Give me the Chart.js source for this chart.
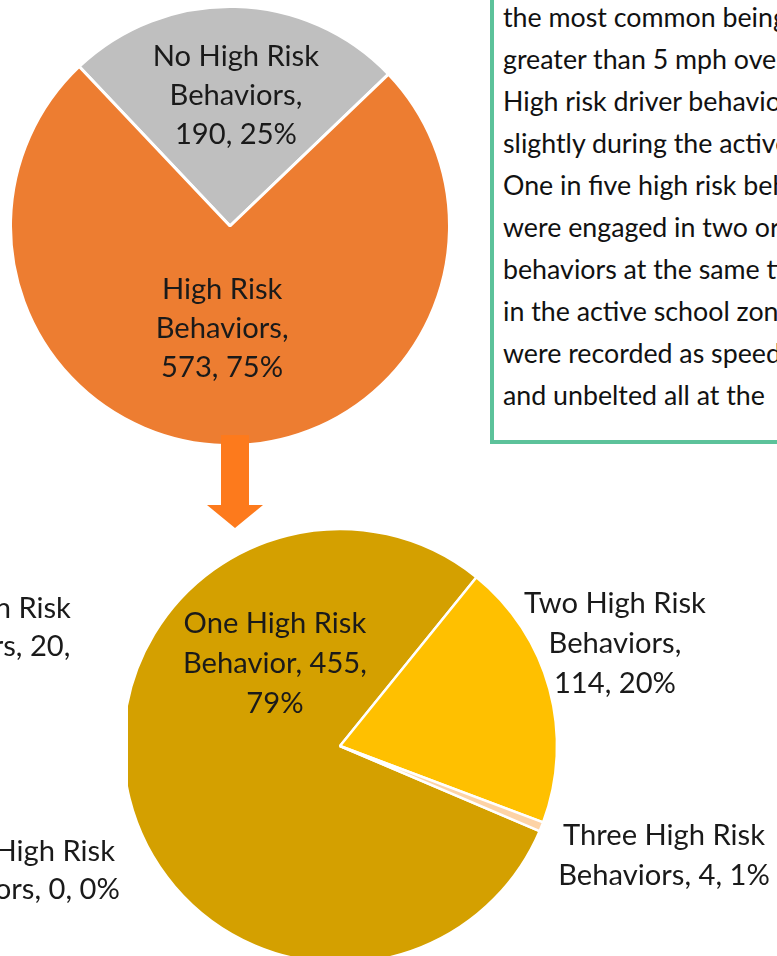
<!DOCTYPE html>
<html>
<head>
<meta charset="utf-8">
<script src="https://cdn.jsdelivr.net/npm/chart.js@4/dist/chart.umd.min.js"></script>
<style>
  html, body { margin: 0; padding: 0; background: #ffffff; }
  body { width: 777px; height: 956px; overflow: hidden; position: relative; font-family: Lato, "Open Sans", sans-serif; color: #1a1a1a; }
  .abs { position: absolute; }
  #topWrap { left: 10px; top: 6px; width: 440px; height: 440px; }
  #botWrap { left: 128px; top: 500px; width: 649px; height: 500px; }
  #box { left: 490px; top: -20px; width: 420px; height: 464px; box-sizing: border-box; border: 4px solid #5CC29A; }
  #boxText { left: 503px; top: -4px; white-space: nowrap; color: #111; }
  .side { white-space: nowrap; text-align: center; width: 320px; color: #1a1a1a; }
  svg { position: absolute; left: 0; top: 0; }
</style>
</head>
<body>
<div id="box" class="abs"></div>
<div id="boxText" class="abs"></div>
<div id="topWrap" class="abs"><canvas id="topChart"></canvas></div>
<div id="botWrap" class="abs"><canvas id="botChart"></canvas></div>
<div id="sideA" class="abs side"></div>
<div id="sideB" class="abs side"></div>
<svg width="777" height="956">
  <polygon points="221,435 249,435 249,505 263,505 235,528 207,505 221,505" fill="#FD7A1C"/>
</svg>
<script>
// ---------------- DATA ----------------
const topCategories = ["No High Risk Behaviors", "High Risk Behaviors"];
const topValues = [190, 573];

const bottomCategories = ["One High Risk Behavior", "Two High Risk Behaviors", "Three High Risk Behaviors"];
const bottomValues = [455, 114, 4];

// labels of a neighbouring chart, cut off at the left edge of the picture
const sideCategories = ["Two High Risk Behaviors", "Three High Risk Behaviors"];
const sideValues = [20, 0];
const sidePercents = ["3%", "0%"];

const boxLines = [
  "the most common being",
  "greater than 5 mph over",
  "High risk driver behavior",
  "slightly during the active",
  "One in five high risk behavior",
  "were engaged in two or",
  "behaviors at the same time",
  "in the active school zone",
  "were recorded as speeding",
  "and unbelted all at the"
];

// ---------------- STYLE ----------------
const FAMILY = 'Lato, "Open Sans", sans-serif';
const mc = document.createElement('canvas').getContext('2d');
function fitSize(text, target) {
  mc.font = '100px ' + FAMILY;
  return 100 * target / mc.measureText(text).width;
}
const labelSize = fitSize("Three High Risk", 202);
const boxSize = fitSize("the most common bein", 270);

const bt = document.getElementById('boxText');
bt.style.font = boxSize.toFixed(2) + 'px ' + FAMILY;
bt.style.lineHeight = '42px';
bt.innerHTML = boxLines.join('<br>');

function sideText(el, i, cx, cy, lh, perLine) {
  const words = (sideCategories[i] + ', ' + sideValues[i] + ', ' + sidePercents[i]).split(' ');
  const lines = []; let k = 0;
  perLine.forEach(n => { lines.push(words.slice(k, k + n).join(' ')); k += n; });
  el.style.font = labelSize.toFixed(2) + 'px ' + FAMILY;
  el.style.lineHeight = lh + 'px';
  el.style.left = (cx - 160) + 'px';
  el.style.top = (cy - lh / 2) + 'px';
  el.innerHTML = lines.join('<br>');
}
sideText(document.getElementById('sideA'), 0, -20, 607, 38, [3, 2, 1]);
sideText(document.getElementById('sideB'), 1, 14, 850, 38, [3, 3]);

const sliceLabels = {
  id: 'sliceLabels',
  afterDatasetsDraw(chart, args, opts) {
    const ctx = chart.ctx;
    const meta = chart.getDatasetMeta(0);
    const ds = chart.data.datasets[0];
    const total = ds.data.reduce((a, b) => a + b, 0);
    ctx.save();
    ctx.font = labelSize.toFixed(2) + 'px ' + FAMILY;
    ctx.fillStyle = opts.color;
    ctx.textAlign = 'center';
    ctx.textBaseline = 'middle';
    meta.data.forEach((arc, i) => {
      const text = chart.data.labels[i] + ', ' + ds.data[i] + ', ' + Math.round(ds.data[i] / total * 100) + '%';
      const words = text.split(' ');
      const lines = []; let k = 0;
      opts.wordsPerLine[i].forEach(n => { lines.push(words.slice(k, k + n).join(' ')); k += n; });
      const r = arc.outerRadius;
      const cx = arc.x + opts.offsets[i][0] * r;
      const cy = arc.y + opts.offsets[i][1] * r;
      lines.forEach((ln, j) => ctx.fillText(ln, cx, cy + (j - (lines.length - 1) / 2) * opts.lineHeight));
    });
    ctx.restore();
  }
};

new Chart(document.getElementById('topChart'), {
  type: 'pie',
  data: {
    labels: topCategories,
    datasets: [{
      data: topValues,
      backgroundColor: ['#BFBFBF', '#ED7D31'],
      borderColor: '#ffffff',
      borderWidth: 3,
      clip: false
    }]
  },
  options: {
    responsive: true,
    maintainAspectRatio: false,
    animation: false,
    rotation: -43.4,
    radius: 219.5,
    layout: { padding: 0 },
    events: [],
    plugins: {
      legend: { display: false },
      tooltip: { enabled: false },
      sliceLabels: {
        color: '#1a1a1a',
        lineHeight: 39,
        wordsPerLine: [[3, 1, 2], [2, 1, 2]],
        offsets: [[0.027, -0.592], [-0.036, 0.469]]
      }
    }
  },
  plugins: [sliceLabels]
});

new Chart(document.getElementById('botChart'), {
  type: 'pie',
  data: {
    labels: bottomCategories,
    datasets: [{
      data: bottomValues,
      backgroundColor: ['#D4A000', '#FFC000', '#FDD3A6'],
      borderColor: '#ffffff',
      borderWidth: 2.5,
      clip: false
    }]
  },
  options: {
    responsive: true,
    maintainAspectRatio: false,
    animation: false,
    rotation: 113.1,
    radius: 217,
    layout: { padding: { left: 0, right: 225, top: 30, bottom: 38 } },
    events: [],
    plugins: {
      legend: { display: false },
      tooltip: { enabled: false },
      sliceLabels: {
        color: '#1a1a1a',
        lineHeight: 40,
        wordsPerLine: [[3, 2, 1], [3, 1, 2], [3, 3]],
        offsets: [[-0.300, -0.382], [1.267, -0.470], [1.493, 0.507]]
      }
    }
  },
  plugins: [sliceLabels]
});
</script>
</body>
</html>
